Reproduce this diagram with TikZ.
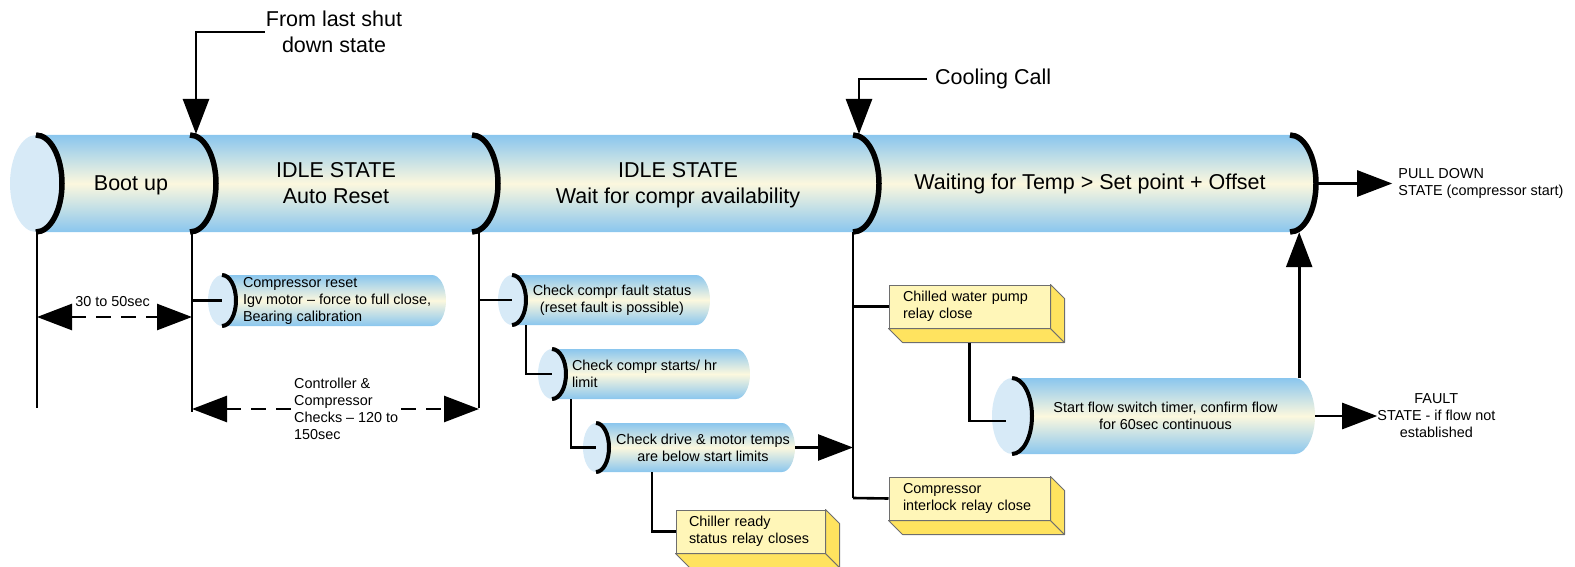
\documentclass[tikz,border=0pt]{standalone}
\usepackage{fontspec}
\setmainfont{Liberation Sans}
\usetikzlibrary{arrows.meta}
\usetikzlibrary{positioning}

\definecolor{pipeblue}{HTML}{8AC6EE}
\definecolor{pipecream}{HTML}{FCF8DE}
\definecolor{capblue}{HTML}{D7EAF7}
\definecolor{boxfront}{HTML}{FFF6B8}
\definecolor{boxside}{HTML}{FFE35F}
\definecolor{boxedge}{HTML}{6E6E6E}

\newcommand\bigtxt{\fontsize{21.5}{26}\selectfont}
\newcommand\smalltxt{\fontsize{14.4}{17}\selectfont}

\tikzset{
  link/.style={line width=2.6pt},
  flowarrow/.style={link, -{Triangle[length=35pt,width=26pt]}},
  dimarrow/.style={link, dash pattern=on 15pt off 10pt,
    {Triangle[length=35pt,width=26pt]}-{Triangle[length=35pt,width=26pt]}},
  tubebody/.style={top color=pipeblue, bottom color=pipeblue, middle color=pipecream},
  tubecap/.style={fill=capblue},
  tuberim/.style={line width=4pt},
  piperim/.style={line width=5.5pt},
  tubebox/.style={inner sep=0pt},
  bigtext/.style={font=\bigtxt, align=center, inner sep=1pt},
  smalltext/.style={font=\smalltxt, align=center, inner sep=1pt},
  relay/.style={draw=boxedge, fill=boxfront, line width=1pt, font=\smalltxt,
    align=left, minimum height=43pt, inner xsep=14pt},
  relayside/.style={draw=boxedge, fill=boxside, line width=1pt, line join=round},
}

% name, left x, right x, top y, bottom y, end radius
\newcommand\tube[6]{%
  \pgfmathsetmacro\tubemid{(#4+#5)/2}%
  \pgfmathsetmacro\tubery{(#5-#4)/2}%
  \shade[tubebody] (#2+#6,#4) -- (#3-#6,#4)
    arc[start angle=-90, end angle=90, x radius=#6, y radius=\tubery]
    -- (#2+#6,#5) -- cycle;
  \fill[tubecap] (#2+#6,\tubemid) ellipse[x radius=#6, y radius=\tubery];
  \draw[tuberim] (#2+#6,#4) arc[start angle=-90, end angle=90, x radius=#6, y radius=\tubery];
  \node[tubebox, minimum width={#3-#2}, minimum height={#5-#4}] (#1) at ({(#2+#3)/2},\tubemid) {};
}

\begin{document}
\begin{tikzpicture}[x=1pt, y=-1pt]
  \useasboundingbox (0,0) rectangle (1575,567);

  \tube{pipe}{10}{1316}{135}{232}{26}
  \foreach \sx in {36,190,472,853,1290}
    \draw[piperim] (\sx,135) arc[start angle=-90, end angle=90, x radius=26, y radius=48.5];

  \node[bigtext] (boot) at (131,185) {Boot up};
  \node[bigtext] (idleA) at (336,183) {IDLE STATE\\Auto Reset};
  \node[bigtext] (idleB) at (678,185) {IDLE STATE\\Wait for compr availability};
  \node[bigtext] (waiting) at (1090,184) {Waiting for Temp > Set point + Offset};

  \node[bigtext] (shut) at (334,32) {From last shut\\down state};
  \coordinate (shutin) at (196,134);
  \draw[flowarrow] (shut.west) -| (shutin);
  \node[bigtext, anchor=west, inner xsep=8pt] (cool) at (927,79) {Cooling Call};
  \coordinate (coolin) at (859,134);
  \draw[flowarrow] (cool.west) -| (coolin);

  \coordinate (bootend) at (37,408);
  \coordinate (resetend) at (192,412);
  \coordinate (idleend) at (479,408);
  \coordinate (busend) at (853,498);
  \foreach \e in {bootend,resetend,idleend,busend}
    \draw[link] (pipe.south -| \e) -- (\e);

  \coordinate (dimA) at (0,317);
  \coordinate (dimB) at (0,409);
  \draw[dimarrow] (bootend |- dimA) -- (resetend |- dimA);
  \node[smalltext] (bootdim) at (112.5,301.5) {30 to 50sec};
  \draw[dimarrow] (resetend |- dimB) -- (idleend |- dimB);
  \node[smalltext, align=left, fill=white, anchor=west] (checkdim) at (293,408.5)
    {Controller \&\\Compressor\\Checks – 120 to\\150sec};

  \tube{reset}{208}{446}{275}{326}{14}
  \node[smalltext, align=left, right=34pt of reset.west] (resettxt)
    {Compressor reset\\Igv motor – force to full close,\\Bearing calibration};
  \tube{faultchk}{498}{710}{275}{325}{14}
  \node[smalltext] (faulttxt) at ([xshift=8pt]faultchk.center)
    {Check compr fault status\\(reset fault is possible)};
  \tube{starts}{538}{750}{349}{399}{14}
  \node[smalltext, align=left, right=33pt of starts.west] (startstxt)
    {Check compr starts/ hr\\limit};
  \tube{temps}{583}{795}{423}{472}{13}
  \node[smalltext] (tempstxt) at ([xshift=14pt]temps.center)
    {Check drive \& motor temps\\are below start limits};
  \tube{flow}{992}{1315}{378}{454}{20}
  \node[smalltext] (flowtxt) at ([xshift=12pt]flow.center)
    {Start flow switch timer, confirm flow\\for 60sec continuous};

  \node[relay, text width=133pt] (chilled) at (969.5,306.5) {Chilled water pump\\relay close};
  \node[relay, text width=133pt] (interlock) at (969.5,498.5) {Compressor\\interlock relay close};
  \node[relay, text width=123pt, inner xsep=13pt] (ready) at (750.5,531.5) {Chiller ready\\status relay closes};
  \foreach \b in {chilled,interlock,ready} {
    \draw[relayside] (\b.south west) -- ([shift={(14pt,-14pt)}]\b.south west)
      -- ([shift={(14pt,-14pt)}]\b.south east) -- (\b.south east) -- cycle;
    \draw[relayside] (\b.north east) -- ([shift={(14pt,-14pt)}]\b.north east)
      -- ([shift={(14pt,-14pt)}]\b.south east) -- (\b.south east) -- cycle;
  }

  \draw[link] (reset.west -| resetend) -- ([xshift=14pt]reset.west);
  \draw[link] (faultchk.west -| idleend) -- ([xshift=14pt]faultchk.west);
  \draw[link] ([xshift=28pt]faultchk.south west) |- ([xshift=14pt]starts.west);
  \draw[link] ([xshift=33pt]starts.south west) |- ([xshift=13pt]temps.west);
  \draw[link] ([xshift=69pt]temps.south west) |- (ready.west);
  \draw[flowarrow] (temps.east) -- (temps.east -| busend);
  \draw[link] (chilled.west -| busend) -- (chilled.west);
  \draw[link] (busend) -- (interlock.west);
  \draw[link] ([yshift=-14pt]chilled.south) |- ([xshift=14pt,yshift=-5pt]flow.west);
  \draw[flowarrow] ([xshift=-16pt]flow.north east) -- ([xshift=-16pt]flow.north east |- pipe.south);

  \node[smalltext, right=62pt of flow.east, inner sep=0pt] (faultlbl)
    {FAULT\\STATE - if flow not\\established};
  \draw[flowarrow] (flow.east) -- (faultlbl.west);
  \node[smalltext, align=left, right=76pt of pipe.east, inner xsep=6pt, inner ysep=0pt] (pull)
    {PULL DOWN\\STATE (compressor start)};
  \draw[flowarrow] (pipe.east) -- (pull.west);
\end{tikzpicture}
\end{document}
